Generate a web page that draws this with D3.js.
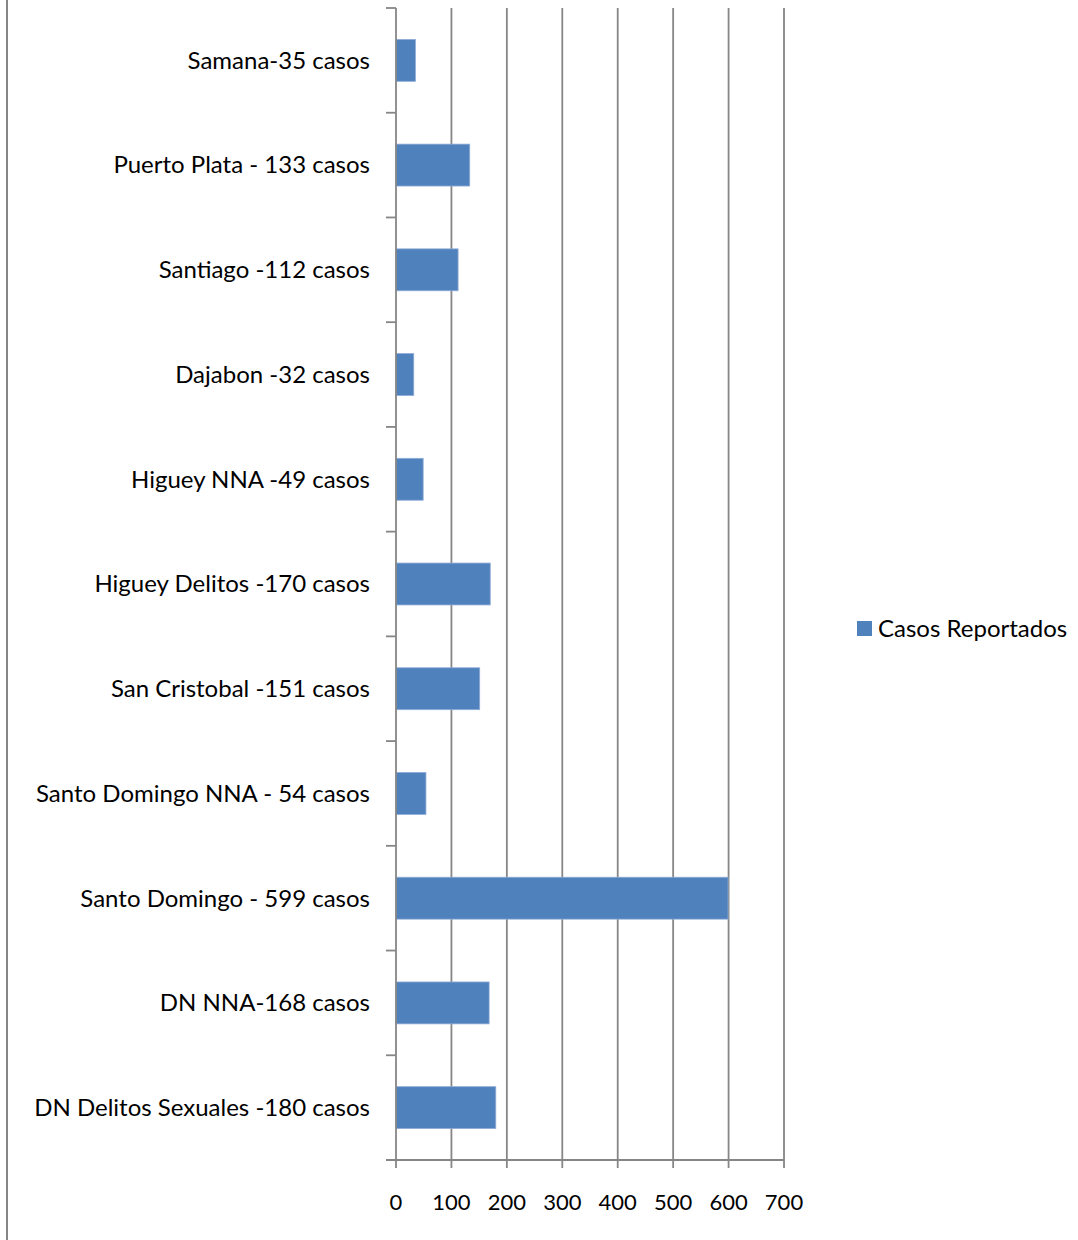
<!DOCTYPE html>
<html>
<head>
<meta charset="utf-8">
<script src="https://cdn.jsdelivr.net/npm/d3@7"></script>
<style>
  body { margin: 0; background: #fff; }
  text { font-family: Lato, "Open Sans", sans-serif; fill: #000; }
</style>
</head>
<body>
<div id="chart"></div>
<script>
// data, top to bottom as in the chart
var categories = ["Samana-35 casos", "Puerto Plata - 133 casos", "Santiago -112 casos", "Dajabon -32 casos",
  "Higuey NNA -49 casos", "Higuey Delitos -170 casos", "San Cristobal -151 casos",
  "Santo Domingo NNA - 54 casos", "Santo Domingo - 599 casos", "DN NNA-168 casos",
  "DN Delitos Sexuales -180 casos"];
var values = [35, 133, 112, 32, 49, 170, 151, 54, 599, 168, 180];
var xTicks = [0, 100, 200, 300, 400, 500, 600, 700];
var seriesName = "Casos Reportados";

var width = 1078, height = 1240;
var plotLeft = 396, plotRight = 784, plotTop = 8, plotBottom = 1160;
var gridColor = "#868686";
var fontSize = "24px";
var lineW = 1.8;

var svg = d3.select("#chart").append("svg")
  .attr("width", width)
  .attr("height", height);

// outer border line on the left
svg.append("line")
  .attr("x1", 7).attr("x2", 7)
  .attr("y1", 0).attr("y2", height)
  .attr("stroke", gridColor).attr("stroke-width", 2);

var x = d3.scaleLinear().domain([0, 700]).range([plotLeft, plotRight]);
var y = d3.scaleBand().domain(categories).range([plotTop, plotBottom]).paddingInner(0.6).paddingOuter(0.3);
var band = d3.scaleBand().domain(categories).range([plotTop, plotBottom]);

// vertical gridlines
svg.append("g").selectAll("line")
  .data(xTicks.slice(1))
  .enter().append("line")
  .attr("x1", function(d) { return x(d); })
  .attr("x2", function(d) { return x(d); })
  .attr("y1", plotTop).attr("y2", plotBottom)
  .attr("stroke", gridColor).attr("stroke-width", lineW);

// bars
svg.append("g").selectAll("rect")
  .data(values)
  .enter().append("rect")
  .attr("x", x(0))
  .attr("y", function(d, i) { return y(categories[i]); })
  .attr("width", function(d) { return x(d) - x(0); })
  .attr("height", y.bandwidth())
  .attr("fill", "#4F81BD")
  .attr("stroke", "#8EAAD6")
  .attr("stroke-width", 0.8);

// category axis (left)
var yAxis = svg.append("g").attr("transform", "translate(" + plotLeft + ",0)");
yAxis.append("line")
  .attr("x1", 0).attr("x2", 0).attr("y1", plotTop).attr("y2", plotBottom)
  .attr("stroke", gridColor).attr("stroke-width", lineW);
var yTickPos = categories.map(function(c) { return band(c); }).concat([plotBottom]);
yAxis.selectAll("line.tick")
  .data(yTickPos)
  .enter().append("line")
  .attr("class", "tick")
  .attr("x1", -10).attr("x2", 0)
  .attr("y1", function(d) { return d; }).attr("y2", function(d) { return d; })
  .attr("stroke", gridColor).attr("stroke-width", lineW);
yAxis.selectAll("text")
  .data(categories)
  .enter().append("text")
  .attr("x", -26)
  .attr("y", function(d) { return band(d) + band.bandwidth() / 2; })
  .attr("dy", "0.35em")
  .attr("text-anchor", "end")
  .style("font-size", fontSize)
  .text(function(d) { return d; });

// value axis (bottom)
var xAxis = svg.append("g").attr("transform", "translate(0," + plotBottom + ")");
xAxis.append("line")
  .attr("x1", plotLeft - 10).attr("x2", plotRight).attr("y1", 0).attr("y2", 0)
  .attr("stroke", gridColor).attr("stroke-width", lineW);
xAxis.selectAll("line.tick")
  .data(xTicks)
  .enter().append("line")
  .attr("class", "tick")
  .attr("x1", function(d) { return x(d); }).attr("x2", function(d) { return x(d); })
  .attr("y1", 0).attr("y2", 8)
  .attr("stroke", gridColor).attr("stroke-width", lineW);
xAxis.selectAll("text")
  .data(xTicks)
  .enter().append("text")
  .attr("x", function(d) { return x(d); })
  .attr("y", 42)
  .attr("dy", "0.35em")
  .attr("text-anchor", "middle")
  .style("font-size", "22px")
  .text(function(d) { return d; });

// legend
var legend = svg.append("g").attr("transform", "translate(857,621)");
legend.append("rect")
  .attr("width", 15).attr("height", 15)
  .attr("fill", "#4F81BD");
legend.append("text")
  .attr("x", 21).attr("y", 8)
  .attr("dy", "0.35em")
  .style("font-size", fontSize)
  .text(seriesName);
</script>
</body>
</html>
